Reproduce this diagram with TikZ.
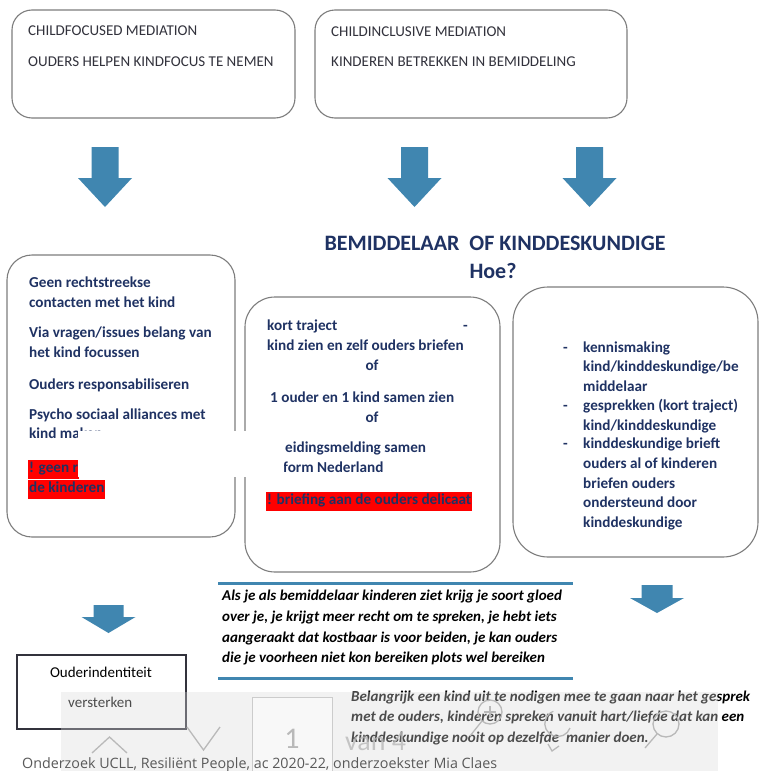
\documentclass[tikz,border=0pt]{standalone}
\usepackage{fontspec}
\setmainfont{Carlito}
\newfontfamily\footfont{Open Sans}
\definecolor{navy}{RGB}{31,50,99}
\definecolor{darktext}{RGB}{50,50,60}
\definecolor{arrowblue}{RGB}{64,134,176}
\definecolor{boxgray}{RGB}{125,125,125}
\definecolor{hlred}{RGB}{255,0,0}
\definecolor{icongray}{RGB}{185,185,185}
\begin{document}
\begin{tikzpicture}[x=1pt,y=-1pt,
  rbox/.style={draw=boxgray, line width=1.1pt, fill=white, inner sep=0},
  captxt/.style={anchor=base west, inner sep=0, text=darktext, font=\fontsize{15}{17}\selectfont},
  bodytxt/.style={anchor=base west, inner sep=0, text=navy, font=\fontsize{15.2}{17}\selectfont\bfseries},
  midtxt/.style={anchor=base, inner sep=0, text=navy, font=\fontsize{15.2}{17}\selectfont\bfseries},
  hltxt/.style={anchor=base west, fill=hlred, inner xsep=1pt, inner ysep=2.5pt, text height=10.5pt, text depth=3.5pt, text=navy, font=\fontsize{15.2}{17}\selectfont\bfseries},
  titletxt/.style={anchor=base, inner sep=0, text=navy, font=\fontsize{22}{24}\selectfont\bfseries},
  quotetxt/.style={anchor=base west, inner sep=0, text=black, font=\fontsize{15}{17}\selectfont\bfseries\itshape},
  blkarrow/.style={fill=arrowblue, draw=none},
  bline/.style={draw=arrowblue, line width=3pt},
  icon/.style={draw=icongray, line width=1.3pt}
]
\useasboundingbox (0,0) rectangle (760,771);
\fill[white] (0,0) rectangle (760,771);

% ---------- top boxes ----------
\node[rbox, rounded corners=20pt, minimum width=283pt, minimum height=108pt] (tl) at (153.5,64) {};
\node[rbox, rounded corners=20pt, minimum width=312pt, minimum height=108pt] (tr) at (471,64) {};
\node[captxt] (tl1) at (28,35.5) {CHILDFOCUSED MEDIATION};
\node[captxt] (tl2) at (28,66) {OUDERS HELPEN KINDFOCUS TE NEMEN};
\node[captxt] (tr1) at (331,36) {CHILDINCLUSIVE MEDIATION};
\node[captxt] (tr2) at (331,66) {KINDEREN BETREKKEN IN BEMIDDELING};

% ---------- block arrows ----------
\newcommand\blkarr[6]{% cx, top, headbase, tip, shaftwidth, headwidth
  \fill[blkarrow] ({#1-#5/2},#2) -- ({#1+#5/2},#2) -- ({#1+#5/2},#3) -- ({#1+#6/2},#3)
    -- (#1,#4) -- ({#1-#6/2},#3) -- ({#1-#5/2},#3) -- cycle;}
\blkarr{105}{147}{178}{207}{27}{54}
\blkarr{414.5}{147}{178}{207}{27}{54}
\blkarr{589.5}{147}{178}{207}{27}{54}
\blkarr{108.5}{605}{617}{633}{30}{54}
\blkarr{657}{585}{598}{613}{31}{54}

% ---------- title ----------
\node[titletxt] (title) at (495,250) {BEMIDDELAAR\ \ OF KINDDESKUNDIGE};
\node[titletxt] (hoe) at (493,278) {Hoe?};

% ---------- left box ----------
\node[rbox, rounded corners=25pt, minimum width=228pt, minimum height=282pt] (lb) at (121,396) {};
\node[bodytxt] at (29,287.5) {Geen rechtstreekse};
\node[bodytxt] at (29,307.5) {contacten met het kind};
\node[bodytxt] at (29,337.5) {Via vragen/issues belang van};
\node[bodytxt] at (29,357.5) {het kind focussen};
\node[bodytxt] at (29,389.5) {Ouders responsabiliseren};
\node[bodytxt] at (29,419.5) {Psycho sociaal alliances met};
\node[bodytxt] at (29,438.5) {kind maken};
\node[hltxt] (hl1) at (28,472.5) {! geen r};
\node[hltxt] (hl2) at (28,492.5) {de kinderen};

% ---------- middle box ----------
\node[rbox, rounded corners=30pt, minimum width=255pt, minimum height=275pt] (mb) at (372.5,434.5) {};
\node[bodytxt] at (267,330.5) {kort traject};
\node[bodytxt] at (463,330.5) {-};
\node[bodytxt] at (267,350.5) {kind zien en zelf ouders briefen};
\node[midtxt] at (372,370.5) {of};
\node[bodytxt] at (270,402.5) {1 ouder en 1 kind samen zien};
\node[midtxt] at (372,422.5) {of};
\node[bodytxt] at (285,452.5) {eidingsmelding samen};
\node[bodytxt] at (283,472.5) {form Nederland};
\node[hltxt] (hl3) at (266,504.5) {! briefing aan de ouders delicaat};

% ---------- right box ----------
\node[rbox, rounded corners=35pt, minimum width=245pt, minimum height=270pt] (rb) at (635.5,422) {};
\foreach \yy in {352.5,410.5,448.5} \node[bodytxt] at (563,\yy) {-};
\node[bodytxt] at (583,352.5) {kennismaking};
\node[bodytxt] at (583,371.5) {kind/kinddeskundige/be};
\node[bodytxt] at (583,391.5) {middelaar};
\node[bodytxt] at (583,410.5) {gesprekken (kort traject)};
\node[bodytxt] at (583,430.5) {kind/kinddeskundige};
\node[bodytxt] at (583,448.5) {kinddeskundige brieft};
\node[bodytxt] at (583,468.5) {ouders al of kinderen};
\node[bodytxt] at (583,488.5) {briefen ouders};
\node[bodytxt] at (583,507.5) {ondersteund door};
\node[bodytxt] at (583,527.5) {kinddeskundige};

% white occluding patch (as in the screenshot)
\fill[white] (78,431) rectangle (284,477);

% ---------- quote ----------
\coordinate (q1a) at (218,583); \coordinate (q1b) at (573,583);
\coordinate (q2a) at (218,678); \coordinate (q2b) at (573,678);
\draw[bline] (q1a) -- (q1b);
\draw[bline] (q2a) -- (q2b);
\node[quotetxt] at (222,600.5) {Als je als bemiddelaar kinderen ziet krijg je soort gloed};
\node[quotetxt] at (222,621) {over je, je krijgt meer recht om te spreken, je hebt iets};
\node[quotetxt] at (222,642) {aangeraakt dat kostbaar is voor beiden, je kan ouders};
\node[quotetxt] at (222,662.5) {die je voorheen niet kon bereiken plots wel bereiken};

% ---------- Ouderindentiteit box ----------
\node[draw=darktext, line width=1.4pt, fill=white, minimum width=169pt, minimum height=74pt, inner sep=0] (ob) at (101.5,692) {};
\node[anchor=base, inner sep=0, text=black, font=\fontsize{15}{17}\selectfont] at (101,677.5) {Ouderindentiteit};
\node[anchor=base west, inner sep=0, text=black, font=\fontsize{15}{17}\selectfont] at (68,707.5) {versterken};

% ---------- bottom italic text ----------
\node[quotetxt] at (351,701) {Belangrijk een kind uit te nodigen mee te gaan naar het gesprek};
\node[quotetxt] at (351,721.5) {met de ouders, kinderen spreken vanuit hart/liefde dat kan een};
\node[quotetxt] at (351,742) {kinddeskundige nooit op dezelfde\ \ manier doen.};

% ---------- viewer toolbar overlay ----------
\fill[black!14, opacity=0.35] (61,692) rectangle (718,771);
\draw[draw=black!20, fill=white, fill opacity=0.5, line width=1pt] (252,697) rectangle (332,790);
\node[anchor=base, inner sep=0, text=icongray, font=\fontsize{30}{32}\selectfont] at (292,748) {1};
\node[anchor=base west, inner sep=0, text=icongray, font=\fontsize{28}{30}\selectfont, opacity=0.8] at (345,750) {van 4};
\draw[icon] (92,753) -- (109.5,737) -- (127,753);
\draw[icon] (187,727) -- (203.5,750) -- (220,727);
% zoom in
\draw[icon] (490,712) circle (12);
\draw[icon] (484,712) -- (496,712) (490,706) -- (490,718);
\draw[icon] (482,721) -- (470,736);
% rotate
\draw[icon] (570,728) arc (20:250:13);
\draw[icon] (548,744) -- (552,751) -- (559,746);
% search
\draw[icon] (666,724) circle (13);
\draw[icon] (657,734) -- (645,748);

% ---------- footer ----------
\node[anchor=base west, inner sep=0, text=black!65, font=\footfont\fontsize{14.3}{16}\selectfont] (foot) at (22,768.5) {Onderzoek UCLL, Resiliënt People, ac 2020-22, onderzoekster Mia Claes};
\end{tikzpicture}
\end{document}
